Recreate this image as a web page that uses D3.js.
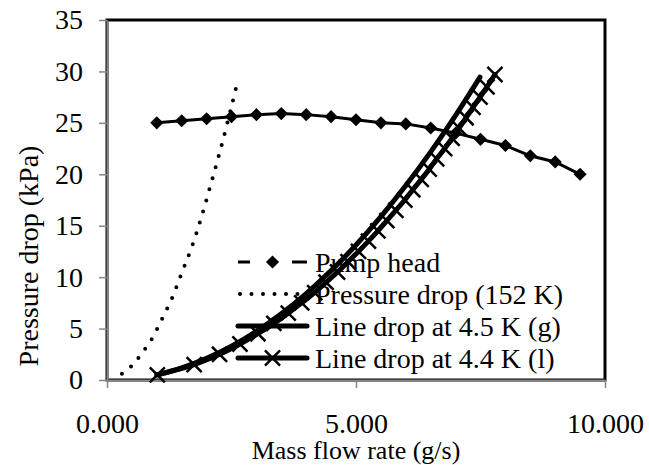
<!DOCTYPE html>
<html>
<head>
<meta charset="utf-8">
<script src="https://cdn.jsdelivr.net/npm/d3@7"></script>
<style>
  body { margin: 0; background: #fff; }
  text { font-family: 'Liberation Serif', 'Times New Roman', serif; fill: #000; }
</style>
</head>
<body>
<svg id="chart"></svg>
<script>
// pump head curve (markers every 0.5 g/s)
const pumpFlow = [1.0, 1.5, 2.0, 2.5, 3.0, 3.5, 4.0, 4.5, 5.0, 5.5, 6.0, 6.5, 7.0, 7.5, 8.0, 8.5, 9.0, 9.5]
const pumpHead = [25.0, 25.2, 25.4, 25.6, 25.8, 25.9, 25.8, 25.6, 25.3, 25.0, 24.9, 24.5, 24.0, 23.4, 22.8, 21.8, 21.2, 20.0]

// pressure drop at 152 K
const warmFlow = [0.3, 0.5, 0.7, 0.9, 1.1, 1.3, 1.5, 1.7, 1.9, 2.1, 2.3, 2.5, 2.6]
const warmDrop = [0.6, 1.4, 2.6, 4.0, 5.9, 7.9, 10.4, 12.9, 15.9, 19.3, 22.8, 26.6, 28.6]

// line drop at 4.5 K (gas)
const gasFlow = [1.0, 1.5, 2.0, 2.5, 3.0, 3.5, 4.0, 4.5, 5.0, 5.5, 6.0, 6.5, 7.0, 7.49]
const gasDrop = [0.5, 1.18, 2.1, 3.28, 4.73, 6.43, 8.4, 10.63, 13.13, 15.88, 18.9, 22.18, 25.73, 29.45]

// line drop at 4.4 K (liquid)
const liqFlow = [1.01, 1.75, 2.26, 2.67, 3.03, 3.35, 3.64, 3.91, 4.17, 4.40, 4.63, 4.84, 5.05, 5.25, 5.44,
  5.62, 5.80, 5.98, 6.14, 6.31, 6.47, 6.62, 6.78, 6.93, 7.07, 7.21, 7.35, 7.49, 7.63, 7.79]
const liqDrop = [0.5, 1.5, 2.5, 3.5, 4.5, 5.5, 6.5, 7.5, 8.5, 9.5, 10.5, 11.5, 12.5, 13.5, 14.5,
  15.5, 16.5, 17.5, 18.5, 19.5, 20.5, 21.5, 22.5, 23.5, 24.5, 25.5, 26.5, 27.5, 28.5, 29.7]

const xTicks = [0, 5, 10]
const yTicks = [0, 5, 10, 15, 20, 25, 30, 35]
const legendLabels = ['Pump head', 'Pressure drop (152 K)', 'Line drop at 4.5 K (g)', 'Line drop at 4.4 K (l)']

const width = 649
const height = 465
const plot = { left: 107, right: 605, top: 20, bottom: 380 }
const axisGrey = '#868686'

const svg = d3.select('#chart')
  .attr('width', width)
  .attr('height', height)

const x = d3.scaleLinear().domain([0, 10]).range([plot.left, plot.right])
const y = d3.scaleLinear().domain([0, 35]).range([plot.bottom, plot.top])

const zip = (xs, ys) => xs.map((v, i) => [v, ys[i]])

// plot frame
svg.append('rect')
  .attr('x', plot.left)
  .attr('y', plot.top)
  .attr('width', plot.right - plot.left)
  .attr('height', plot.bottom - plot.top)
  .attr('fill', 'none')
  .attr('stroke', '#000')
  .attr('stroke-width', 3)

// axes
const yAxis = svg.append('g')
  .attr('transform', `translate(${plot.left},0)`)
  .call(d3.axisLeft(y).tickValues(yTicks).tickSize(8).tickPadding(16).tickSizeOuter(0))
const xAxis = svg.append('g')
  .attr('transform', `translate(0,${plot.bottom})`)
  .call(d3.axisBottom(x).tickValues(xTicks).tickSize(8).tickPadding(25).tickSizeOuter(0).tickFormat(d3.format('.3f')))

for (const ax of [xAxis, yAxis]) {
  ax.select('.domain').attr('stroke', axisGrey).attr('stroke-width', 2)
  ax.selectAll('.tick line').attr('stroke', axisGrey).attr('stroke-width', 1.5)
  ax.selectAll('text').attr('font-size', 28).attr('fill', '#000')
}

// axis titles
svg.append('text')
  .attr('x', (plot.left + plot.right) / 2)
  .attr('y', 459)
  .attr('text-anchor', 'middle')
  .attr('font-size', 26)
  .text('Mass flow rate (g/s)')

svg.append('text')
  .attr('transform', 'translate(38,256) rotate(-90)')
  .attr('text-anchor', 'middle')
  .attr('font-size', 28)
  .text('Pressure drop (kPa)')

// legend (drawn under the series, as in the original)
const diamond = d3.symbol().type(d3.symbolDiamond2).size(110)
const cross = d3.symbol().type(d3.symbolX).size(150)

const legend = svg.append('g')
const rowY = (i) => 262 + i * 32
const sx1 = 238
const sx2 = 307

legend.selectAll('text')
  .data(legendLabels)
  .enter().append('text')
  .attr('x', 315)
  .attr('y', (d, i) => rowY(i))
  .attr('dy', '0.35em')
  .attr('font-size', 28)
  .text((d) => d)

legend.append('line')
  .attr('x1', sx1).attr('x2', sx2).attr('y1', rowY(0)).attr('y2', rowY(0))
  .attr('stroke', '#000').attr('stroke-width', 3).attr('stroke-dasharray', '12 42 15')
legend.append('path')
  .attr('d', diamond)
  .attr('transform', `translate(${(sx1 + sx2) / 2},${rowY(0)})`)

legend.append('line')
  .attr('x1', sx1 + 2).attr('x2', sx2).attr('y1', rowY(1)).attr('y2', rowY(1))
  .attr('stroke', '#000').attr('stroke-width', 4).attr('stroke-linecap', 'round').attr('stroke-dasharray', '0 11.5')

legend.append('line')
  .attr('x1', sx1).attr('x2', sx2).attr('y1', rowY(2)).attr('y2', rowY(2))
  .attr('stroke', '#000').attr('stroke-width', 5).attr('stroke-linecap', 'round')

legend.append('line')
  .attr('x1', sx1).attr('x2', sx2).attr('y1', rowY(3)).attr('y2', rowY(3))
  .attr('stroke', '#000').attr('stroke-width', 5).attr('stroke-linecap', 'round')
legend.append('path')
  .attr('d', cross)
  .attr('transform', `translate(${(sx1 + sx2) / 2},${rowY(3)})`)
  .attr('fill', 'none')
  .attr('stroke', '#000')
  .attr('stroke-width', 2.5)

// series
const smooth = d3.line().x((d) => x(d[0])).y((d) => y(d[1])).curve(d3.curveCatmullRom)
const straight = d3.line().x((d) => x(d[0])).y((d) => y(d[1]))

svg.append('path')
  .attr('d', smooth(zip(warmFlow, warmDrop)))
  .attr('fill', 'none')
  .attr('stroke', '#000')
  .attr('stroke-width', 4)
  .attr('stroke-linecap', 'round')
  .attr('stroke-dasharray', '0 11.5')

svg.append('path')
  .attr('d', smooth(zip(gasFlow, gasDrop)))
  .attr('fill', 'none')
  .attr('stroke', '#000')
  .attr('stroke-width', 5)
  .attr('stroke-linecap', 'round')

svg.append('path')
  .attr('d', smooth(zip(liqFlow, liqDrop)))
  .attr('fill', 'none')
  .attr('stroke', '#000')
  .attr('stroke-width', 5)
  .attr('stroke-linecap', 'round')

svg.append('g')
  .selectAll('path')
  .data(zip(liqFlow, liqDrop))
  .enter().append('path')
  .attr('d', cross)
  .attr('transform', (d) => `translate(${x(d[0])},${y(d[1])})`)
  .attr('fill', 'none')
  .attr('stroke', '#000')
  .attr('stroke-width', 2.5)

svg.append('path')
  .attr('d', straight(zip(pumpFlow, pumpHead)))
  .attr('fill', 'none')
  .attr('stroke', '#000')
  .attr('stroke-width', 3)

svg.append('g')
  .selectAll('path')
  .data(zip(pumpFlow, pumpHead))
  .enter().append('path')
  .attr('d', diamond)
  .attr('transform', (d) => `translate(${x(d[0])},${y(d[1])})`)
  .attr('fill', '#000')
</script>
</body>
</html>
